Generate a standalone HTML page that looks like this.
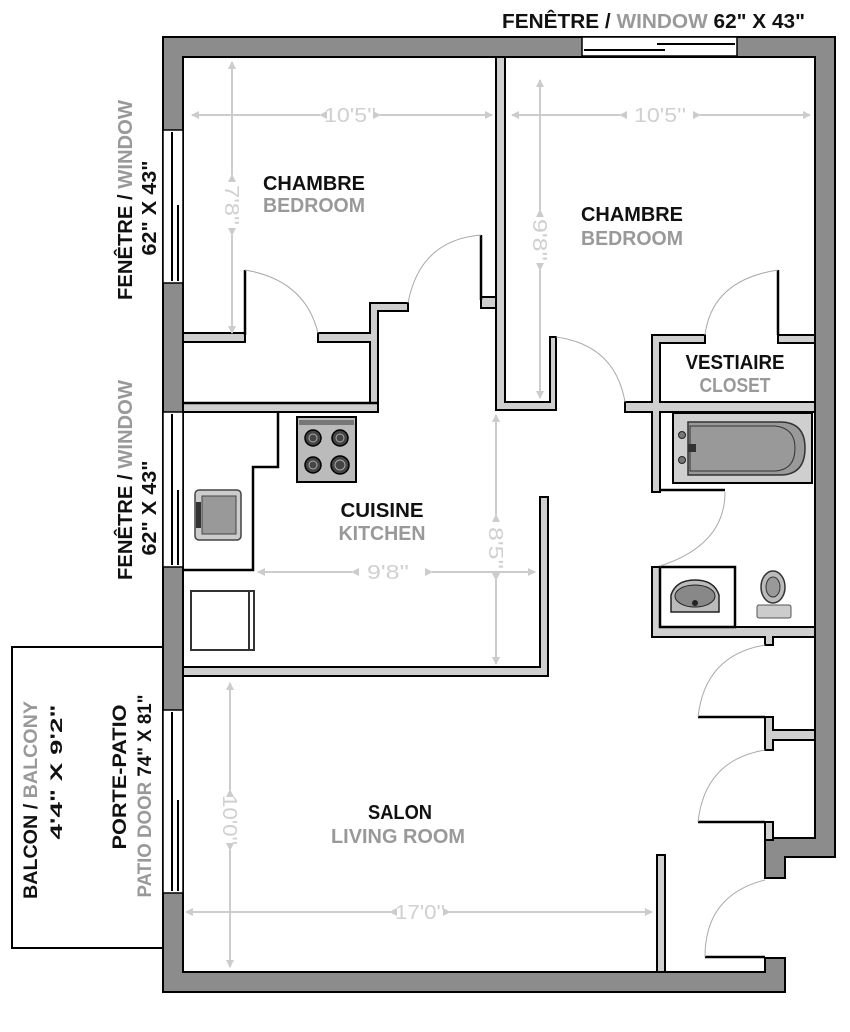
<!DOCTYPE html>
<html><head><meta charset="utf-8"><style>
html,body{margin:0;padding:0;background:#fff;}
svg{display:block;}
text{font-family:"Liberation Sans Narrow","Liberation Sans",sans-serif;font-weight:bold;}
.b{fill:#111;} .g{fill:#999;} .d{fill:#d0d0d0;font-weight:normal;}
</style></head><body>
<svg width="850" height="1032" viewBox="0 0 850 1032" xmlns="http://www.w3.org/2000/svg">
<defs>
<marker id="ar" markerWidth="8" markerHeight="8" refX="7" refY="4" orient="auto" markerUnits="userSpaceOnUse"><path d="M0,0 L8,4 L0,8 z" fill="#ccc"/></marker>
</defs>
<rect x="12" y="647" width="152" height="301" fill="#fff" stroke="#000" stroke-width="2"/>
<g fill="#8c8c8c" stroke="#000" stroke-width="2">
<path d="M163,37 H835 V857 H785 V878 H765 V838 H815 V57 H183 V972 H765 V958 H785 V992 H163 Z"/>
</g>
<rect x="582" y="37" width="155" height="19" fill="#fff" stroke="#000" stroke-width="1.5"/>
<line x1="584" y1="50" x2="665" y2="50" stroke="#000" stroke-width="2"/>
<line x1="657" y1="44" x2="735" y2="44" stroke="#000" stroke-width="2"/>
<g fill="#fff" stroke="#000" stroke-width="1.5">
<rect x="163" y="130" width="20" height="153"/>
<rect x="163" y="412" width="20" height="155"/>
<rect x="163" y="710" width="20" height="183"/>
</g>
<g stroke="#000" stroke-width="2">
<line x1="172" y1="132" x2="172" y2="281"/><line x1="178" y1="205" x2="178" y2="281"/>
<line x1="172" y1="414" x2="172" y2="565"/><line x1="178" y1="490" x2="178" y2="565"/>
<line x1="172" y1="712" x2="172" y2="891"/><line x1="178" y1="800" x2="178" y2="891"/>
</g>
<g fill="#cfcfcf" stroke="#000" stroke-width="2">
<path d="M496,57 H505 V402 H550 V337 H556 V410 H496 Z"/>
<rect x="481" y="297" width="15" height="11"/>
<path d="M183,333 H245 V342 H183 Z"/>
<path d="M318,333 H370 V303 H408 V311 H378 V412 H183 V403 H370 V342 H318 Z"/>
<path d="M540,497 H548 V676 H183 V667 H540 Z"/>
<path d="M652,335 H705 V343 H660 V402 H815 V412 H660 V492 H652 V412 H625 V402 H652 Z"/>
<rect x="778" y="335" width="37" height="8"/>
<path d="M652,567 H660 V627 H815 V637 H773 V645 H765 V637 H652 Z"/>
<path d="M765,717 H773 V730 H815 V740 H773 V750 H765 Z"/>
<rect x="765" y="822" width="8" height="18"/>
<rect x="657" y="855" width="8" height="117"/>
</g>
<g stroke="#000" stroke-width="2.5" fill="none">
<path d="M183,403 H378"/>
<path d="M278,412 V467 H253 V570 H183"/>
<path d="M660,490 H725"/>
<rect x="660" y="567" width="75" height="60"/>
<path d="M245,270 V335"/><path d="M481,235 V300"/>
<path d="M778,270 V335"/>
<path d="M698,717 H765"/><path d="M698,822 H765"/><path d="M705,957 H765"/>
</g>
<g stroke="#aaa" stroke-width="1" fill="none">
<path d="M245,270 Q305,280 318,333"/>
<path d="M481,235 Q420,240 408,303"/>
<path d="M556,337 Q615,345 625,402"/>
<path d="M778,270 Q712,280 705,335"/>
<path d="M725,492 Q725,545 660,566"/>
<path d="M765,645 Q705,655 698,717"/>
<path d="M765,750 Q705,760 698,822"/>
<path d="M765,880 Q705,895 705,957"/>
</g>
<rect x="673" y="413" width="139" height="70" fill="#cfcfcf" stroke="#000" stroke-width="2"/>
<path d="M688,422 H780 Q805,422 805,448 Q805,475 780,475 H688 Z" fill="#999" stroke="#333" stroke-width="1.5"/>
<path d="M690,426 H775 Q795,428 795,448 Q795,470 775,471 H690 Z" fill="#999" stroke="#333" stroke-width="1"/>
<circle cx="682" cy="435" r="3.5" fill="#777" stroke="#222"/><circle cx="682" cy="460" r="3.5" fill="#777" stroke="#222"/>
<rect x="688" y="444" width="8" height="8" fill="#333"/>
<path d="M671,612 V595 Q676,580 695,580 Q714,580 719,595 V612 Z" fill="#bbb" stroke="#222" stroke-width="1.5"/>
<ellipse cx="695" cy="596" rx="20" ry="11" fill="#888" stroke="#222"/>
<circle cx="695" cy="603" r="3" fill="#222"/>
<ellipse cx="773" cy="587" rx="12" ry="16" fill="#bbb" stroke="#333" stroke-width="1.5"/>
<ellipse cx="773" cy="587" rx="7" ry="10" fill="#999" stroke="#333"/>
<rect x="757" y="605" width="34" height="13" rx="2" fill="#ccc" stroke="#555"/>
<rect x="297" y="417" width="59" height="65" fill="#bbb" stroke="#000" stroke-width="2"/>
<rect x="299" y="420" width="55" height="5" fill="#777"/>
<g fill="#444" stroke="#000" stroke-width="1.5">
<circle cx="313" cy="438" r="8"/><circle cx="340" cy="438" r="8"/><circle cx="313" cy="465" r="8"/><circle cx="340" cy="465" r="9"/>
</g>
<g fill="none" stroke="#aaa" stroke-width="1"><circle cx="313" cy="438" r="4"/><circle cx="340" cy="438" r="4"/><circle cx="313" cy="465" r="4"/><circle cx="340" cy="465" r="5"/></g>
<rect x="195" y="490" width="46" height="50" rx="4" fill="#ccc" stroke="#444" stroke-width="1.5"/>
<rect x="202" y="496" width="34" height="38" fill="#999" stroke="#444"/>
<rect x="196" y="502" width="5" height="26" fill="#333"/>
<rect x="191" y="591" width="63" height="59" fill="#fff" stroke="#333" stroke-width="2"/>
<line x1="249" y1="591" x2="249" y2="650" stroke="#333" stroke-width="2"/>
<g stroke="#ccc" stroke-width="2" marker-start="url(#ar)" marker-end="url(#ar)">
<line x1="320" y1="115" x2="192" y2="115"/><line x1="380" y1="115" x2="492" y2="115"/>
<line x1="620" y1="115" x2="512" y2="115"/><line x1="700" y1="115" x2="810" y2="115"/>
<line x1="232" y1="175" x2="232" y2="62"/><line x1="232" y1="235" x2="232" y2="333"/>
<line x1="540" y1="210" x2="540" y2="80"/><line x1="540" y1="270" x2="540" y2="398"/>
<line x1="352" y1="572" x2="258" y2="572"/><line x1="432" y1="572" x2="535" y2="572"/>
<line x1="496" y1="515" x2="496" y2="415"/><line x1="496" y1="580" x2="496" y2="664"/>
<line x1="230" y1="790" x2="230" y2="683"/><line x1="230" y1="850" x2="230" y2="967"/>
<line x1="390" y1="912" x2="186" y2="912"/><line x1="450" y1="912" x2="652" y2="912"/>
</g>
<g font-size="20">
<text class="d" x="350" y="122" text-anchor="middle" textLength="52" lengthAdjust="spacingAndGlyphs">10'5''</text>
<text class="d" x="660" y="122" text-anchor="middle" textLength="52" lengthAdjust="spacingAndGlyphs">10'5''</text>
<text class="d" x="388" y="579" text-anchor="middle" textLength="42" lengthAdjust="spacingAndGlyphs">9'8''</text>
<text class="d" x="420" y="919" text-anchor="middle" textLength="50" lengthAdjust="spacingAndGlyphs">17'0''</text>
<text class="d" transform="translate(225,205) rotate(90)" text-anchor="middle" textLength="40" lengthAdjust="spacingAndGlyphs">7'8''</text>
<text class="d" transform="translate(533,240) rotate(90)" text-anchor="middle" textLength="42" lengthAdjust="spacingAndGlyphs">9'8''</text>
<text class="d" transform="translate(489,548) rotate(90)" text-anchor="middle" textLength="42" lengthAdjust="spacingAndGlyphs">8'5''</text>
<text class="d" transform="translate(223,820) rotate(90)" text-anchor="middle" textLength="50" lengthAdjust="spacingAndGlyphs">10'0''</text>
</g>
<g font-size="20" text-anchor="middle" lengthAdjust="spacingAndGlyphs">
<text class="b" x="314" y="190" textLength="102" lengthAdjust="spacingAndGlyphs">CHAMBRE</text><text class="g" x="314" y="212" textLength="102" lengthAdjust="spacingAndGlyphs">BEDROOM</text>
<text class="b" x="632" y="221" textLength="102" lengthAdjust="spacingAndGlyphs">CHAMBRE</text><text class="g" x="632" y="245" textLength="102" lengthAdjust="spacingAndGlyphs">BEDROOM</text>
<text class="b" x="735" y="369" textLength="99" lengthAdjust="spacingAndGlyphs">VESTIAIRE</text><text class="g" x="735" y="392" textLength="71" lengthAdjust="spacingAndGlyphs">CLOSET</text>
<text class="b" x="382" y="517" textLength="83" lengthAdjust="spacingAndGlyphs">CUISINE</text><text class="g" x="382" y="540" textLength="87" lengthAdjust="spacingAndGlyphs">KITCHEN</text>
<text class="b" x="400" y="819" textLength="64" lengthAdjust="spacingAndGlyphs">SALON</text><text class="g" x="398" y="843" textLength="134" lengthAdjust="spacingAndGlyphs">LIVING ROOM</text>
</g>
<text x="502" y="28" font-size="20" textLength="303" lengthAdjust="spacingAndGlyphs"><tspan class="b">FENÊTRE / </tspan><tspan class="g">WINDOW </tspan><tspan class="b">62" X 43"</tspan></text>
<g font-size="20" text-anchor="middle">
<text transform="translate(132,200) rotate(-90)" textLength="200" lengthAdjust="spacingAndGlyphs"><tspan class="b">FENÊTRE / </tspan><tspan class="g">WINDOW</tspan></text>
<text class="b" transform="translate(156,208) rotate(-90)" textLength="95" lengthAdjust="spacingAndGlyphs">62" X 43"</text>
<text transform="translate(132,480) rotate(-90)" textLength="200" lengthAdjust="spacingAndGlyphs"><tspan class="b">FENÊTRE / </tspan><tspan class="g">WINDOW</tspan></text>
<text class="b" transform="translate(156,508) rotate(-90)" textLength="95" lengthAdjust="spacingAndGlyphs">62" X 43"</text>
</g>
<g text-anchor="middle" style="font-family:'Liberation Sans',sans-serif;font-weight:bold">
<text font-size="19" transform="translate(37,800) rotate(-90)" textLength="198" lengthAdjust="spacingAndGlyphs"><tspan class="b">BALCON / </tspan><tspan class="g">BALCONY</tspan></text>
<text font-size="17" class="b" transform="translate(62,772) rotate(-90)" textLength="135" lengthAdjust="spacingAndGlyphs">4'4" X 9'2"</text>
<text font-size="19" class="b" transform="translate(126,777) rotate(-90)" textLength="145" lengthAdjust="spacingAndGlyphs">PORTE-PATIO</text>
<text font-size="19" transform="translate(151,796) rotate(-90)" textLength="203" lengthAdjust="spacingAndGlyphs"><tspan class="g">PATIO DOOR </tspan><tspan class="b">74" X 81"</tspan></text>
</g>
</svg>
</body></html>
